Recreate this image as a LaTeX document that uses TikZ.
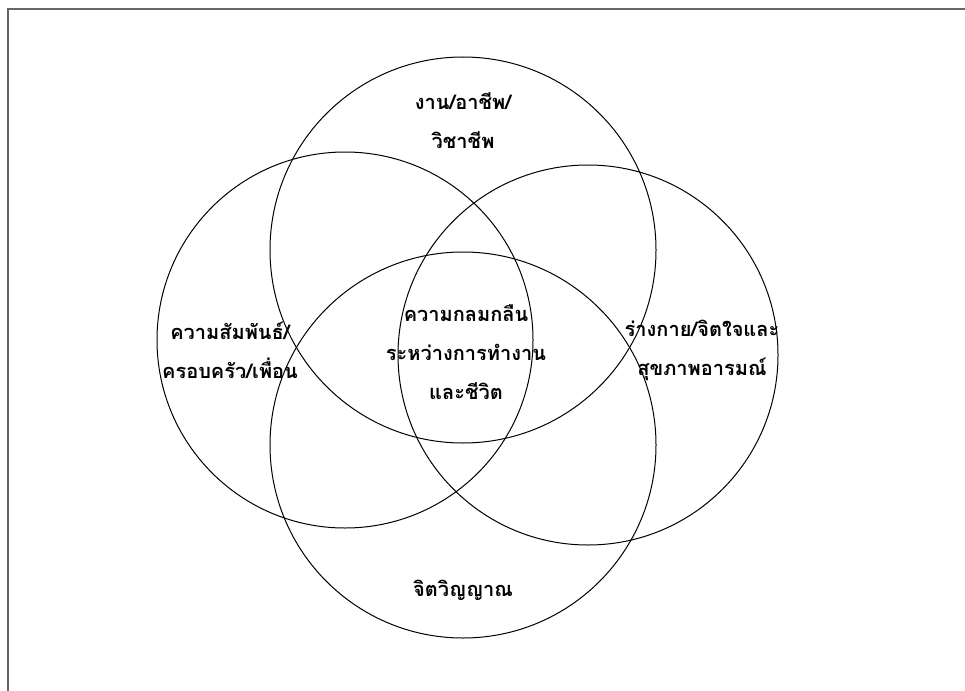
\documentclass[tikz,border=0pt]{standalone}
\usepackage{fontspec}
\newfontfamily\thaifont[Script=Thai]{Loma}
\tikzset{
  ring/.style={circle, draw=black, line width=1pt, inner sep=0pt},
  lbl/.style={font=\thaifont\bfseries\fontsize{20}{39}\selectfont, align=center, inner sep=0pt},
  frameline/.style={draw=black!60, line width=2pt}
}
\begin{document}
\begin{tikzpicture}[x=1pt,y=-1pt]
\useasboundingbox (0,0) rectangle (965,690);
\coordinate (fb) at (8,691);
\coordinate (fc) at (8,9);
\coordinate (fr) at (966,9);
\draw[frameline] (fb) -- (fc) -- (fr);
\node[ring, minimum size=386pt] (ctop) at (463,250) {};
\node[ring, minimum size=376pt] (cleft) at (345,340) {};
\node[ring, minimum size=380pt] (cright) at (588,355) {};
\node[ring, minimum size=386pt] (cbot) at (463,445) {};
\node[lbl] (ttop) at (463,121) {งาน/อาชีพ/\\วิชาชีพ};
\node[lbl] (tleft) at (230,350) {ความสัมพันธ์/\\ครอบครัว/เพื่อน};
\node[lbl] (tmid) at (466,352) {ความกลมกลืน\\ระหว่างการทำงาน\\และชีวิต};
\node[lbl] (tright) at (702,350) {ร่างกาย/จิตใจและ\\สุขภาพอารมณ์};
\node[lbl] (tbot) at (463,590) {จิตวิญญาณ};
\end{tikzpicture}
\end{document}
